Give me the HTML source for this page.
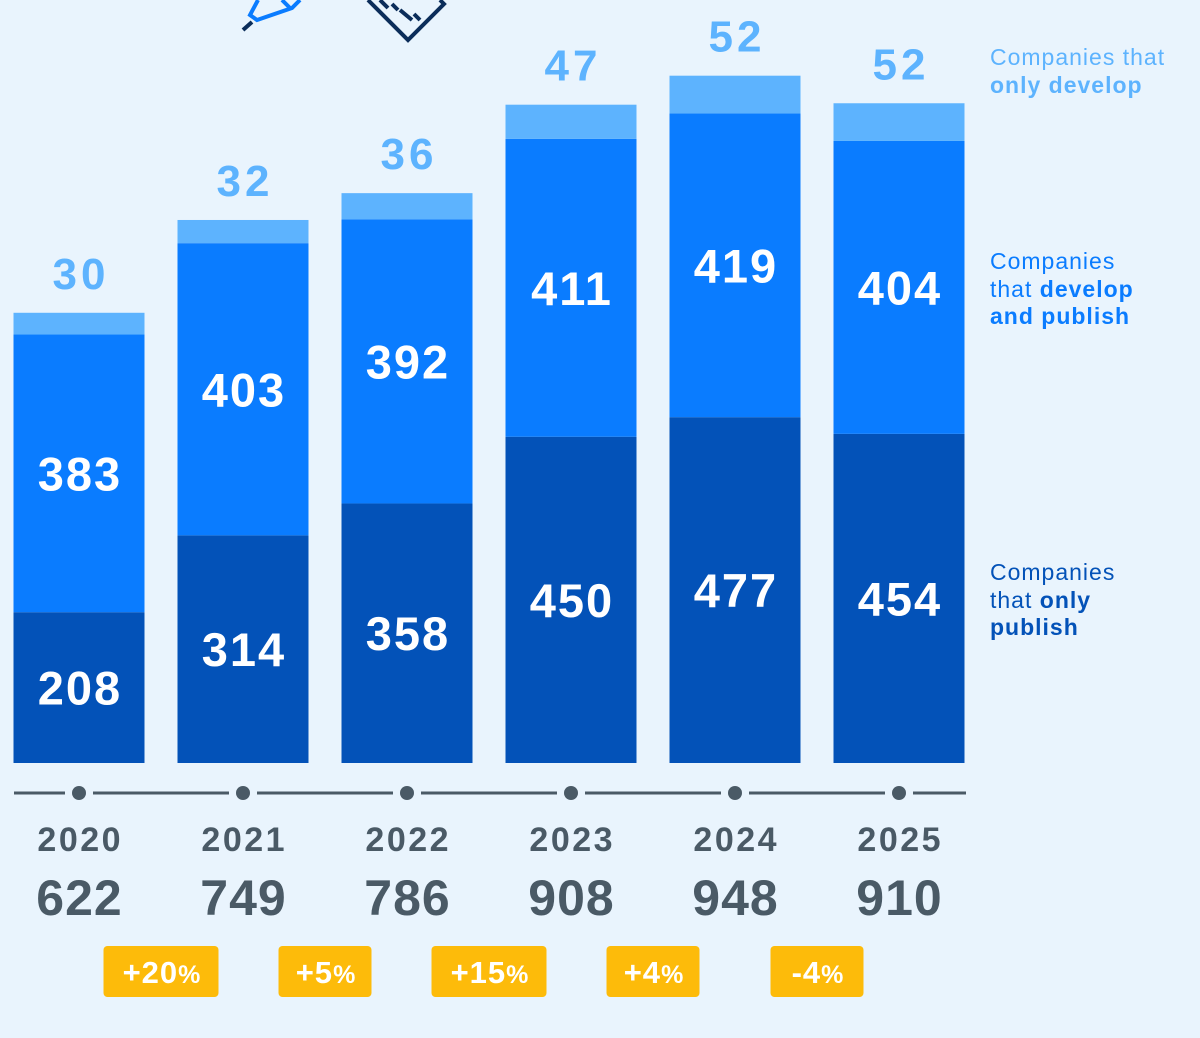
<!DOCTYPE html>
<html><head><meta charset="utf-8"><style>
html,body{margin:0;padding:0;background:#e9f4fd;}
svg{display:block;font-family:"Liberation Sans",sans-serif;}
</style></head><body>
<svg id="c" width="1200" height="1038" viewBox="0 0 1200 1038">
<rect width="1200" height="1038" fill="#e9f4fd"/>
<g fill="none" stroke="#0a7cff" stroke-width="4">
<path d="M300 0 L292 8 L257 20 L250 15 L258 0"/><path d="M282 0 L290 8"/>
<path d="M243 30 L252 22" stroke="#0b2d5a" stroke-width="4"/>
</g>
<g fill="none" stroke="#0b2d5a" stroke-width="4">
<path d="M368 0 L408 40 L444 4 L440 0"/><path d="M380 0 L388 8 M392 4 L398 10 M400 10 L412 20 M414 14 L420 20"/>
</g>
<g id="bars"></g>
<g id="axis"></g>
<g font-size="23" letter-spacing="1">
<text x="990" y="65" fill="#5db3fe">Companies that</text>
<text x="990" y="93" fill="#5db3fe" font-weight="bold">only develop</text>
<text x="990" y="269" fill="#0a7cff">Companies</text>
<text x="990" y="297" fill="#0a7cff">that <tspan font-weight="bold">develop</tspan></text>
<text x="990" y="324" fill="#0a7cff" font-weight="bold">and publish</text>
<text x="990" y="580" fill="#0352b8">Companies</text>
<text x="990" y="608" fill="#0352b8">that <tspan font-weight="bold">only</tspan></text>
<text x="990" y="635" fill="#0352b8" font-weight="bold">publish</text>
</g>
</svg>
<script>
const years = ["2020","2021","2022","2023","2024","2025"];
const onlyPublish = [208,314,358,450,477,454];
const developPublish = [383,403,392,411,419,404];
const onlyDevelop = [30,32,36,47,52,52];
const totals = [622,749,786,908,948,910];
const changes = ["+20","+5","+15","+4","-4"];

const NS="http://www.w3.org/2000/svg";
const base=763, k=0.725, bw=131, x0=79, step=164;
const xc=i=>x0+i*step;
const y=v=>base-v*k;
function mk(tag,attrs,parent,txt){const e=document.createElementNS(NS,tag);for(const a in attrs)e.setAttribute(a,attrs[a]);if(txt!==undefined)e.textContent=txt;parent.appendChild(e);return e;}
function lbl(cx,yy,size,ls,fill,txt,parent){return mk('text',{x:cx+ls/2,y:yy,'text-anchor':'middle','font-size':size,'font-weight':'bold','letter-spacing':ls,fill:fill},parent,txt);}
const bars=document.getElementById('bars'), axis=document.getElementById('axis');
years.forEach((yr,i)=>{
  const cx=xc(i), l=cx-bw/2;
  const a=onlyPublish[i], b=developPublish[i], c=onlyDevelop[i];
  let r=mk('rect',{x:l,y:y(a),width:bw,height:a*k,fill:'#0352b8'},bars);
  
  
  r=mk('rect',{x:l,y:y(a+b),width:bw,height:b*k,fill:'#0a7cff'},bars);
  
  
  r=mk('rect',{x:l,y:y(a+b+c),width:bw,height:c*k,fill:'#5db3fe'},bars);
  
  
  let t=lbl(cx,(y(a)+base)/2+17,47,2,'#fff',a,bars);
  
  
  t=lbl(cx,(y(a)+y(a+b))/2+17,47,2,'#fff',b,bars);
  
  
  t=lbl(cx,y(a+b+c)-24,44,4,'#5db3fe',c,bars);
  
  
  let d=mk('circle',{cx:cx,cy:793,r:7,fill:'#4a5a66'},axis);
  
  
  t=lbl(cx,851,34,2.5,'#4a5a66',yr,axis);
  
  
  t=lbl(cx,915,50,1,'#4a5a66',totals[i],axis);
  
  
});
let pts=[14];years.forEach((_,i)=>{pts.push(xc(i)-14);pts.push(xc(i)+14);});pts.push(966);
for(let j=0;j<pts.length;j+=2){
  const s=mk('line',{x1:pts[j],x2:pts[j+1],y1:793,y2:793,stroke:'#4a5a66','stroke-width':3},axis);
  
  
}
changes.forEach((ch,i)=>{
  const cx=(xc(i)+xc(i+1))/2;
  const w=ch.length>=3?115:93;
  const g=mk('g',{},axis);
  
  
  mk('rect',{x:cx-w/2,y:946,width:w,height:51,rx:4,fill:'#fdbb0a'},g);
  const t=mk('text',{x:cx+1,y:983,'text-anchor':'middle','font-size':31,'font-weight':'bold','letter-spacing':1,fill:'#fff'},g,ch);
  mk('tspan',{'font-size':25},t,'%');
});
</script>
</body></html>
